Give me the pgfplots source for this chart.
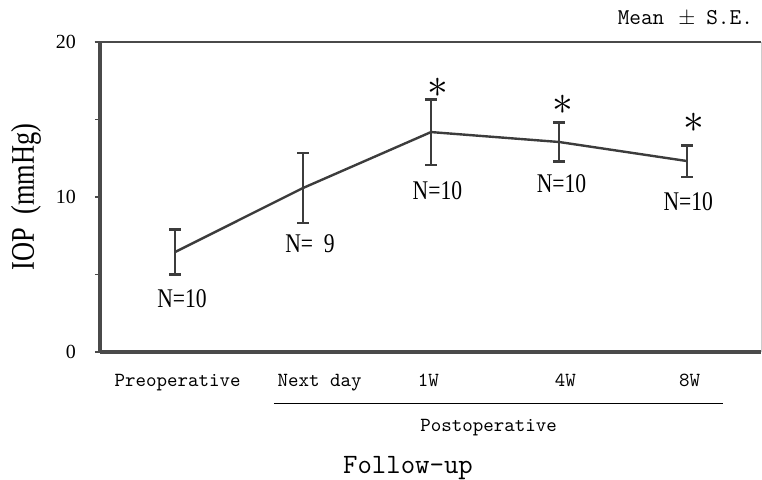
\documentclass[border=0pt]{standalone}
\usepackage{fontspec}
\setmainfont{Liberation Serif}
\newfontfamily\mincho[FakeStretch=0.8]{Liberation Serif}
\usepackage{pgfplots}
\pgfplotsset{compat=1.18}
\definecolor{ln}{HTML}{3C3C3C}
\definecolor{ax}{HTML}{4A4A4A}
\begin{document}
\begin{tikzpicture}
\path[use as bounding box] (-50pt,-63.5pt) rectangle (331pt,176pt);
\begin{axis}[
 at={(0,0)}, anchor=south west,
 scale only axis, width=330.5pt, height=155pt,
 xmin=-0.586, xmax=4.578, ymin=0, ymax=20,
 axis x line=bottom, axis y line=left,
 axis line style={-, draw=ax, line width=1.6pt},
 clip=false,
 xtick={0.02,1.13,1.98,3.05,4.02},
 xticklabels={Preoperative,Next day,1W,4W,8W},
 x tick style={draw=none},
 xticklabel style={font=\ttfamily\fontsize{10}{12}\selectfont, yshift=-5pt},
 ytick={0,10,20}, minor ytick={5,15},
 tick align=outside, major tick length=2.5pt, minor tick length=2.5pt,
 y tick style={draw=ax, line width=0.8pt},
 /pgf/number format/assume math mode=true,
 yticklabel style={font=\fontsize{10}{12}\selectfont, xshift=-6pt},
]
\addplot[ln, line width=1.2pt, mark=none,
  error bars/.cd, y dir=both, y explicit,
  error bar style={line width=1.3pt, ln},
  error mark options={rotate=90, mark size=2.8pt, line width=1.3pt, ln}]
  table[x=x, y=y, y error=e] {
x y e
0 6.45 1.45
1 10.58 2.26
2 14.19 2.12
3 13.55 1.26
4 12.32 1.02
};
\draw[ax, line width=1.3pt] (rel axis cs:-0.008,1) -- (rel axis cs:1,1);
\draw[gray!40, line width=0.5pt] (rel axis cs:1,0) -- (rel axis cs:1,1);
\draw[black, line width=0.5pt] (axis cs:0.773,-3.29) -- (axis cs:4.28,-3.29);
\node[anchor=base, font=\ttfamily\fontsize{10}{12}\selectfont] at (axis cs:2.45,-5.16) {Postoperative};
\node[anchor=base, font=\ttfamily\fontsize{14}{16}\selectfont] at (axis cs:1.82,-7.81) {Follow-up};
\node[anchor=base east, font=\ttfamily\fontsize{11.3}{13}\selectfont] at (axis cs:4.57,21.1) {Mean\hspace{7pt}$\pm$\hspace{5.5pt}S.E.};
\node[rotate=90, font=\mincho\fontsize{16.5}{18}\selectfont] at (axis cs:-1.164,10) {IOP\hspace{0.4em}(mmHg)};
\node[anchor=base, font=\mincho\fontsize{13.5}{15}\selectfont] at (axis cs:0.055,2.84) {N=10};
\node[anchor=base, font=\mincho\fontsize{13.5}{15}\selectfont] at (axis cs:1.055,6.45) {N=\hphantom{1}9};
\node[anchor=base, font=\mincho\fontsize{13.5}{15}\selectfont] at (axis cs:2.05,9.81) {N=10};
\node[anchor=base, font=\mincho\fontsize{13.5}{15}\selectfont] at (axis cs:3.02,10.32) {N=10};
\node[anchor=base, font=\mincho\fontsize{13.5}{15}\selectfont] at (axis cs:4.01,9.16) {N=10};
\node[font=\fontsize{20}{20}\selectfont] at (axis cs:2.05,17.03) {$\ast$};
\node[font=\fontsize{20}{20}\selectfont] at (axis cs:3.03,15.94) {$\ast$};
\node[font=\fontsize{20}{20}\selectfont] at (axis cs:4.05,14.77) {$\ast$};
\end{axis}
\end{tikzpicture}
\end{document}
